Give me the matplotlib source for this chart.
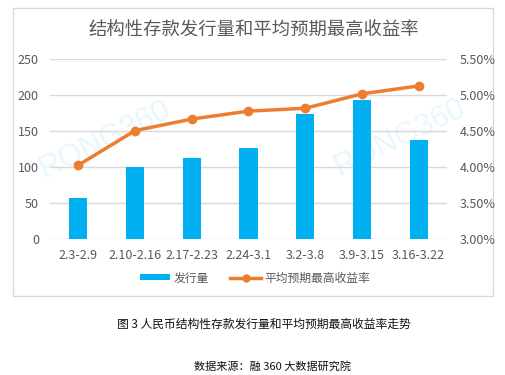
import matplotlib
matplotlib.use("Agg")
import matplotlib.pyplot as plt
from matplotlib.patches import Rectangle
from matplotlib.ticker import FuncFormatter, MultipleLocator
from matplotlib.lines import Line2D
from matplotlib.patches import Patch

plt.rcParams['font.family'] = ['Noto Sans CJK SC', 'DejaVu Sans']

categories = ["2.3-2.9", "2.10-2.16", "2.17-2.23", "2.24-3.1", "3.2-3.8", "3.9-3.15", "3.16-3.22"]
volume = [57, 100, 113, 127, 174, 194, 138]
rate = [4.03, 4.51, 4.67, 4.78, 4.82, 5.02, 5.13]

title = "结构性存款发行量和平均预期最高收益率"
caption = "图 3 人民币结构性存款发行量和平均预期最高收益率走势"
source = "数据来源：融 360 大数据研究院"
legend_labels = ["发行量", "平均预期最高收益率"]

BLUE = "#00B0F0"
ORANGE = "#ED7D31"
GRAY = "#595959"
GRID = "#D9D9D9"

W, H = 505, 375
fig = plt.figure(figsize=(W / 100, H / 100), dpi=100)
fig.patch.set_facecolor("white")

# chart box border
fig.patches.append(Rectangle((13 / W, 1 - 296 / H), (493 - 13) / W, (296 - 8) / H,
                             transform=fig.transFigure, fill=False,
                             edgecolor=GRID, linewidth=1.0))

# watermarks
for (x, y) in [(105, 140), (400, 138)]:
    fig.text(x / W, 1 - y / H, "RONG360", rotation=26, ha="center", va="center",
             fontsize=22, color="#E8F7FD", family="Liberation Sans", zorder=0.5)

ax = fig.add_axes([50 / W, 1 - 239.3 / H, (447 - 50) / W, (239.3 - 59.3) / H])
ax.set_zorder(1)
ax.patch.set_alpha(0)
x = list(range(len(categories)))
ax.bar(x, volume, width=0.32, color=BLUE, zorder=2)
ax.set_xlim(-0.5, len(categories) - 0.5)
ax.set_ylim(0, 250)
ax.yaxis.set_major_locator(MultipleLocator(50))
ax.grid(axis="y", color=GRID, linewidth=1.0, zorder=0)
ax.set_axisbelow(True)
for s in ax.spines.values():
    s.set_visible(False)
ax.tick_params(axis="both", length=0, labelsize=9, colors=GRAY)
ax.tick_params(axis="y", pad=8)
ax.tick_params(axis="x", pad=7)
ax.set_xticks(x)
ax.set_xticklabels(categories)

ax2 = ax.twinx()
ax2.set_zorder(2)
ax2.plot(x, rate, color=ORANGE, linewidth=2.5, marker="o", markersize=6,
         markerfacecolor=ORANGE, markeredgecolor=ORANGE, solid_capstyle="round")
ax2.set_ylim(3.0, 5.5)
ax2.yaxis.set_major_locator(MultipleLocator(0.5))
ax2.yaxis.set_major_formatter(FuncFormatter(lambda v, p: f"{v:.2f}%"))
for s in ax2.spines.values():
    s.set_visible(False)
ax2.tick_params(axis="y", length=0, labelsize=9, colors=GRAY, pad=9)

fig.text(254 / W, 1 - 31 / H, title, ha="center", va="center", fontsize=13.2, color=GRAY)

handles = [Patch(facecolor=BLUE, edgecolor="none"),
           Line2D([0], [0], color=ORANGE, linewidth=2.5, marker="o", markersize=5)]
leg = fig.legend(handles, legend_labels, loc="center", bbox_to_anchor=(255 / W, 1 - 278 / H),
                 ncol=2, frameon=False, fontsize=8.5, handlelength=2.6, handleheight=0.45,
                 columnspacing=1.8, handletextpad=0.3)
for t in leg.get_texts():
    t.set_color(GRAY)

fig.text(264 / W, 1 - 324 / H, caption, ha="center", va="center", fontsize=8.5, color="#111111")
fig.text(272 / W, 1 - 366 / H, source, ha="center", va="center", fontsize=8, color="#111111")

fig.savefig("out.png", dpi=100, facecolor="white")
